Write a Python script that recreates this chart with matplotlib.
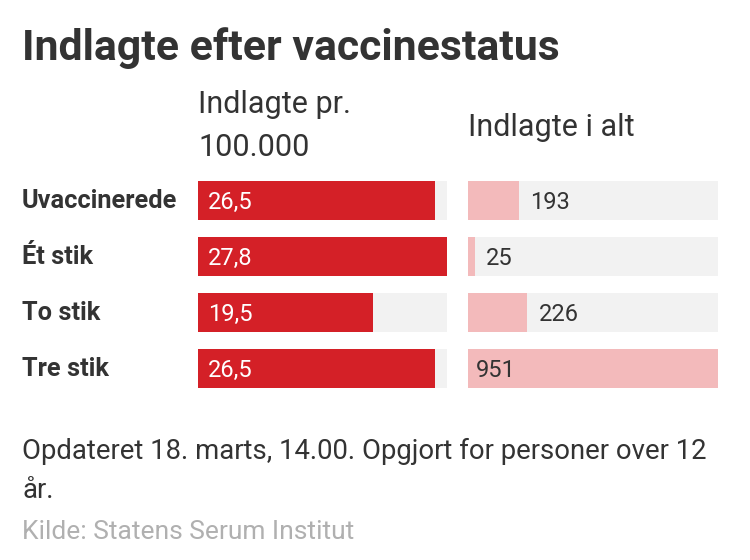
import matplotlib.pyplot as plt

plt.rcParams['font.family'] = ['Roboto', 'DejaVu Sans']

categories = ["Uvaccinerede", "Ét stik", "To stik", "Tre stik"]
per_100k = [26.5, 27.8, 19.5, 26.5]
per_100k_labels = ["26,5", "27,8", "19,5", "26,5"]
total = [193, 25, 226, 951]
total_labels = ["193", "25", "226", "951"]

title = "Indlagte efter vaccinestatus"
header_left = "Indlagte pr.\n100.000"
header_right = "Indlagte i alt"
note = "Opdateret 18. marts, 14.00. Opgjort for personer over 12\når."
source = "Kilde: Statens Serum Institut"

red = "#d42027"
pink = "#f3babb"
track = "#f2f2f2"
dark = "#333333"

W, H = 750, 560
fig = plt.figure(figsize=(W / 100, H / 100), dpi=100)

def px_axes(x0, x1, y0, y1):
    return fig.add_axes([x0 / W, 1 - y1 / H, (x1 - x0) / W, (y1 - y0) / H])

ax1 = px_axes(198, 447, 172.5, 396.5)
ax2 = px_axes(468, 718, 172.5, 396.5)

ypos = list(range(len(categories)))
bar_h = 39 / 56

# left panel: rate per 100.000
max1 = max(per_100k)
ax1.barh(ypos, [max1] * len(ypos), height=bar_h, color=track)
ax1.barh(ypos, per_100k, height=bar_h, color=red)
for y, lab in zip(ypos, per_100k_labels):
    ax1.text(max1 * 10 / 249, y + 0.03, lab, color="white", fontsize=17,
             va="center", ha="left")

# right panel: totals
max2 = max(total)
ax2.barh(ypos, [max2] * len(ypos), height=bar_h, color=track)
ax2.barh(ypos, total, height=bar_h, color=pink)
for y, v, lab in zip(ypos, total, total_labels):
    if v > 0.8 * max2:
        x = max2 * 8 / 250
    else:
        x = v + max2 * 11 / 250
    ax2.text(x, y + 0.03, lab, color=dark, fontsize=17, va="center", ha="left")

for ax, mx in ((ax1, max1), (ax2, max2)):
    ax.set_xlim(0, mx)
    ax.set_ylim(len(categories) - 0.5, -0.5)
    ax.axis("off")

for y, cat in zip(ypos, categories):
    ax1.text(-176 / 249 * max1, y, cat, fontsize=18.3, fontweight="bold",
             color=dark, va="center", ha="left")

fig.text(22 / W, 1 - 48 / H, title, fontsize=30.8, fontweight="bold", color=dark,
         va="center", ha="left")
fig.text(198 / W, 1 - 126 / H, header_left, fontsize=22,
         color=dark, va="center", ha="left", linespacing=1.58)
fig.text(468 / W, 1 - 127 / H, header_right, fontsize=22,
         color=dark, va="center", ha="left")
fig.text(22 / W, 1 - 471 / H, note, fontsize=19.8, color=dark,
         va="center", ha="left", linespacing=1.55)
fig.text(22 / W, 1 - 532 / H, source, fontsize=19, color="#b0b0b0",
         va="center", ha="left")

fig.savefig("out.png", dpi=100)
